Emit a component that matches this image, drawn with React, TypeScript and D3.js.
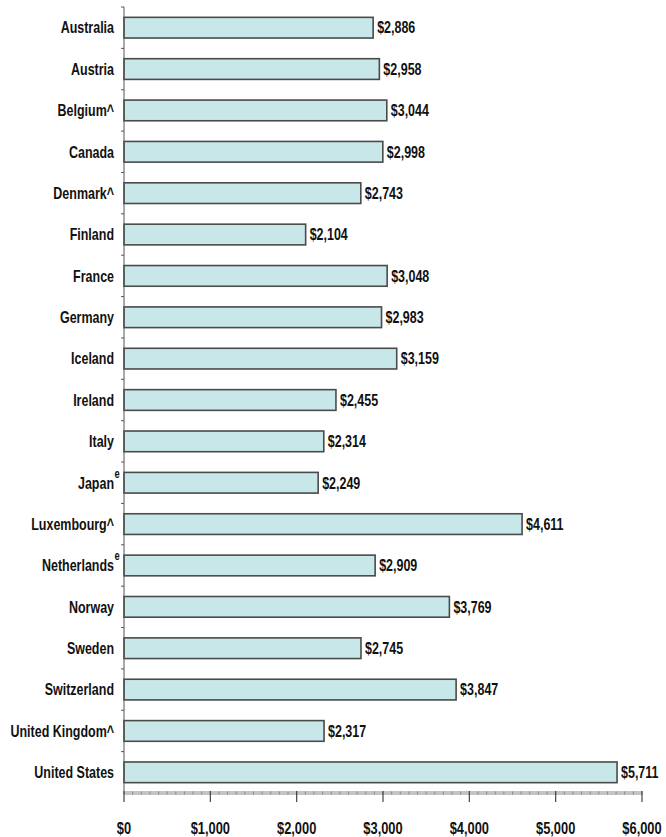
import React, { useLayoutEffect } from "react";
import * as d3 from "d3";

const countries = [
  "Australia", "Austria", "Belgium^", "Canada", "Denmark^", "Finland", "France",
  "Germany", "Iceland", "Ireland", "Italy", "Japan", "Luxembourg^", "Netherlands",
  "Norway", "Sweden", "Switzerland", "United Kingdom^", "United States",
];
const superscripts = ["", "", "", "", "", "", "", "", "", "", "", "e", "", "e", "", "", "", "", ""];
const spending = [
  2886, 2958, 3044, 2998, 2743, 2104, 3048, 2983, 3159, 2455, 2314, 2249, 4611,
  2909, 3769, 2745, 3847, 2317, 5711,
];
const xTicks = [0, 1000, 2000, 3000, 4000, 5000, 6000];

const W = 666;
const H = 837;
const FONT = "'Liberation Sans', Arial, sans-serif";
const SX = 0.78;

function NarrowText(props: {
  x: number;
  y: number;
  anchor?: "start" | "middle" | "end";
  size: number;
  children: React.ReactNode;
}) {
  return (
    <text
      transform={`translate(${props.x},${props.y}) scale(${SX},1)`}
      dy="0.36em"
      textAnchor={props.anchor || "start"}
      fontFamily={FONT}
      fontWeight="bold"
      fontSize={props.size}
      fill="#111"
    >
      {props.children}
    </text>
  );
}

export default function App() {
  useLayoutEffect(() => {
    document.body.style.margin = "0";
  }, []);

  const x = d3.scaleLinear().domain([0, 6000]).range([124, 642]);
  const y = d3.scaleBand<string>().domain(countries).range([7, 793]).paddingInner(0.5).paddingOuter(0.25);
  const band = d3.scaleBand<string>().domain(countries).range([7, 793]).padding(0);
  const fmt = (v: number) => "$" + d3.format(",")(v);
  const minor = d3.range(0, 6001, 100);

  return (
    <svg width={W} height={H} style={{ display: "block", background: "#fff" }}>
      {countries.map((c, i) => {
        const cy = y(c)! + y.bandwidth() / 2;
        return (
          <g key={c}>
            <rect
              x={x(0)}
              y={y(c)!}
              width={x(spending[i]) - x(0)}
              height={y.bandwidth()}
              fill="#c7e7e9"
              stroke="#4a4a4a"
              strokeWidth={1.6}
            />
            <NarrowText x={x(spending[i]) + 4} y={cy} size={16}>
              {fmt(spending[i])}
            </NarrowText>
            <NarrowText x={114} y={cy} size={16} anchor="end">
              {c}
            </NarrowText>
            {superscripts[i] && (
              <text
                transform={`translate(${114.5},${cy - 5}) scale(${SX},1)`}
                fontFamily={FONT}
                fontWeight="bold"
                fontSize={12}
                fill="#111"
              >
                {superscripts[i]}
              </text>
            )}
          </g>
        );
      })}
      <line x1={124} x2={124} y1={7} y2={793} stroke="#555" strokeWidth={1} />
      {countries.map((c) => (
        <line key={"t" + c} x1={121} x2={124} y1={band(c)!} y2={band(c)!} stroke="#555" strokeWidth={1} />
      ))}
      <line x1={x(0)} x2={x(6000)} y1={793} y2={793} stroke="#c4c4c4" strokeWidth={4} />
      {minor.map((v) => (
        <line key={"m" + v} x1={x(v)} x2={x(v)} y1={791.5} y2={794.5} stroke="#8a8a8a" strokeWidth={1} />
      ))}
      {xTicks.map((v) => (
        <g key={"x" + v}>
          <line x1={x(v)} x2={x(v)} y1={791} y2={802} stroke="#444" strokeWidth={1.2} />
          <NarrowText x={x(v)} y={828} size={16.5} anchor="middle">
            {fmt(v)}
          </NarrowText>
        </g>
      ))}
    </svg>
  );
}
